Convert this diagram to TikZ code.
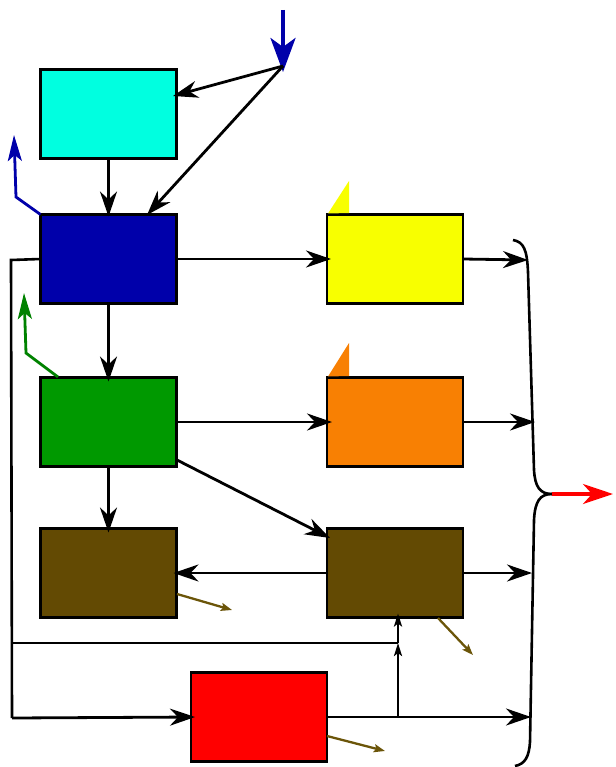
\documentclass[tikz,border=0pt]{standalone}
\usetikzlibrary{arrows.meta,calc}
\definecolor{cyanbox}{RGB}{0,255,224}
\definecolor{bluebox}{RGB}{0,0,170}
\definecolor{greenbox}{RGB}{0,153,0}
\definecolor{brownbox}{RGB}{99,74,3}
\definecolor{yellowbox}{RGB}{248,255,0}
\definecolor{orangebox}{RGB}{248,128,3}
\definecolor{redbox}{RGB}{255,0,0}
\definecolor{smallbrown}{RGB}{107,85,9}
\definecolor{greenarr}{RGB}{0,130,0}
\begin{document}
\begin{tikzpicture}[x=1pt,y=-1pt,
  box/.style={draw=black,line width=2.2pt,minimum width=136pt,minimum height=89pt,inner sep=0pt,outer sep=0pt},
  conn/.style={line width=2.8pt,-{Stealth[length=25pt,width=17pt,inset=8pt]}},
  plain/.style={line width=2.6pt},
  thin arrow/.style={line width=2.4pt,-{Stealth[length=13pt,width=8pt,inset=3pt]}},
  emit/.style={line width=2.3pt,draw=smallbrown,-{Stealth[length=11pt,width=8pt,inset=2pt]}}]
\useasboundingbox (0,0) rectangle (615,767);
% boxes
\node[box,fill=cyanbox] (cyan) at (108.5,114) {};
\node[box,fill=bluebox] (blue) at (108.5,259) {};
\node[box,fill=greenbox] (green) at (108.5,422) {};
\node[box,fill=brownbox] (brownL) at (108.5,573) {};
\node[box,fill=yellowbox] (yellow) at (395,259) {};
\node[box,fill=orangebox] (orange) at (395,422) {};
\node[box,fill=brownbox] (brownR) at (395,573) {};
\node[box,fill=redbox] (red) at (259,717) {};
% tabs
\fill[yellowbox] ($(yellow.north west)+(1,-1)$) -- (349,181) -- (349,213) -- cycle;
\fill[orangebox] ($(orange.north west)+(1,-1)$) -- (349,343) -- (349,376) -- cycle;
% input
\coordinate (top) at (283,10);
\coordinate (src) at (283,66);
\draw[draw=bluebox,line width=4pt,-{Stealth[length=34pt,width=25pt,inset=9pt]}] (top) -- (283,72);
\coordinate (cyanin) at (173,96);
\coordinate (bluein) at (147,215);
\draw[conn] (src) -- (cyanin);
\draw[conn] (src) -- (bluein);
% vertical chain
\draw[conn] (cyan.south) -- ($(blue.north)+(0,2)$);
\draw[conn] (blue.south) -- ($(green.north)+(0,4)$);
\draw[conn] (green.south) -- ($(brownL.north)+(0,4)$);
% blue/green escape arrows
\coordinate (bb1) at (16,197);
\coordinate (bb2) at (14,135);
\draw[draw=bluebox,line width=2.8pt,-{Stealth[length=26pt,width=14pt,inset=6pt]}] (blue.north west) -- (bb1) -- (bb2);
\coordinate (gg0) at (58,377);
\coordinate (gg1) at (26,353);
\coordinate (gg2) at (24,293);
\draw[draw=greenarr,line width=2.8pt,-{Stealth[length=26pt,width=14pt,inset=6pt]}] (gg0) -- (gg1) -- (gg2);
% horizontal flows
\draw[conn] (blue.east) -- ($(yellow.west)+(4,0)$);
\draw[conn] (green.east) -- ($(orange.west)+(5,0)$);
\coordinate (gd) at (177,460);
\coordinate (bd) at (330,538);
\draw[conn] (gd) -- (bd);
\draw[conn] (brownR.west) -- ($(brownL.east)+(-3,0)$);
% outputs to brace
\coordinate (oy) at (528,260);
\coordinate (oo) at (535,422);
\coordinate (ob) at (532,573);
\coordinate (or) at (531,717);
\draw[conn] (yellow.east) -- (oy);
\draw[conn] (orange.east) -- (oo);
\draw[conn] (brownR.east) -- (ob);
\draw[conn] (red.east) -- (or);
% feedback loop
\coordinate (fl1) at (11,260);
\coordinate (fl2) at (12,718);
\coordinate (fl3) at (12,643);
\coordinate (jn) at (398,643);
\coordinate (jr) at (398,717);
\draw[plain] (blue.west) -- (fl1) -- (fl2);
\draw[conn] (fl2) -- ($(red.west)+(4,0)$);
\draw[plain] (fl3) -- (jn);
\draw[thin arrow] (jr) -- (jn);
\draw[thin arrow] (jn) -- ($(brownR.south)+(3,-4)$);
% small brown emissions
\coordinate (e1a) at (177,594);
\coordinate (e1b) at (232,610);
\draw[emit] (e1a) -- (e1b);
\coordinate (e2a) at (438,618);
\coordinate (e2b) at (473,655);
\draw[emit] (e2a) -- (e2b);
\coordinate (e3a) at (327,736);
\coordinate (e3b) at (385,751);
\draw[emit] (e3a) -- (e3b);
% brace
\coordinate (tip) at (552,494);
\draw[line width=2.6pt] (513,240) .. controls (524,242) and (527,250) .. (528,272) -- (534,470) .. controls (535,487) and (540,494) .. (tip);
\draw[line width=2.6pt] (tip) .. controls (540,494) and (535,501) .. (534,520) -- (530,742) .. controls (529,757) and (525,764) .. (515,766);
% red output
\coordinate (out) at (613,494);
\draw[draw=redbox,line width=3.4pt,-{Stealth[length=30pt,width=20pt,inset=9pt]}] (tip) -- (out);
\end{tikzpicture}
\end{document}
